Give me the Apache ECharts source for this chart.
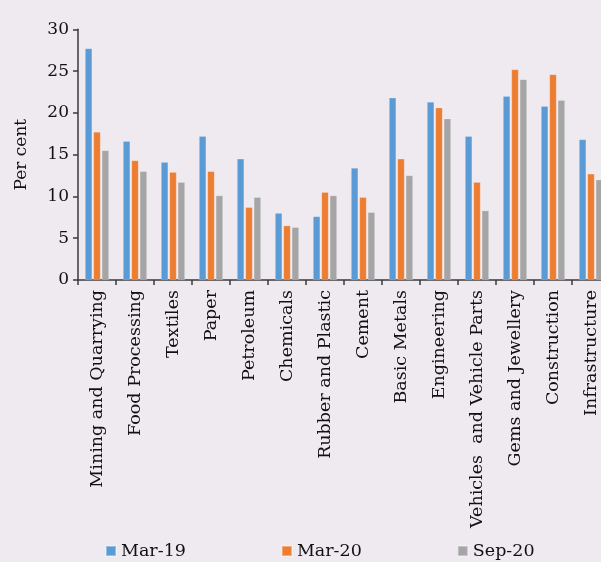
<!DOCTYPE html>
<html>
<head>
<meta charset="utf-8">
<script src="https://cdn.jsdelivr.net/npm/echarts@6/dist/echarts.min.js"></script>
<style>
  html, body { margin: 0; padding: 0; background: #eeeaf0; }
  #chart { width: 601px; height: 562px; }
</style>
</head>
<body>
<div id="chart"></div>
<script>
// Sector categories along the horizontal axis
const categories = [
  'Mining and Quarrying', 'Food Processing', 'Textiles', 'Paper', 'Petroleum',
  'Chemicals', 'Rubber and Plastic', 'Cement', 'Basic Metals', 'Engineering',
  'Vehicles  and Vehicle Parts', 'Gems and Jewellery', 'Construction', 'Infrastructure'
];

// Series values, per cent
const mar19 = [27.7, 16.6, 14.1, 17.2, 14.5, 8.0, 7.6, 13.4, 21.8, 21.3, 17.2, 22.0, 20.8, 16.8];
const mar20 = [17.7, 14.3, 12.9, 13.0, 8.7, 6.5, 10.5, 9.9, 14.5, 20.6, 11.7, 25.2, 24.6, 12.7];
const sep20 = [15.5, 13.0, 11.7, 10.1, 9.9, 6.3, 10.1, 8.1, 12.5, 19.3, 8.3, 24.0, 21.5, 12.0];

const seriesNames = ['Mar-19', 'Mar-20', 'Sep-20'];
const colors = ['#5b9bd5', '#ed7d31', '#a5a5a5'];

const FONT = 'DejaVu Serif';
const chart = echarts.init(document.getElementById('chart'), null, { renderer: 'canvas' });

const dataSets = [mar19, mar20, sep20];
chart.setOption({
  backgroundColor: '#eeeaf0',
  animation: false,
  textStyle: { fontFamily: FONT },
  // the plot runs slightly past the right edge of the canvas
  grid: {
    left: 78, top: 29.3, bottom: 282, width: 532,
    containLabel: false, outerBoundsMode: 'none'
  },
  legend: {
    top: 542,
    left: 105,
    padding: 0,
    itemWidth: 10,
    itemHeight: 10,
    itemGap: 95,
    icon: 'rect',
    textStyle: { fontFamily: FONT, fontSize: 17.5, color: '#111' },
    data: seriesNames
  },
  xAxis: {
    type: 'category',
    data: categories,
    axisLine: { lineStyle: { color: '#3a3a3a', width: 1.5 } },
    axisTick: { show: true, length: 5, lineStyle: { color: '#3a3a3a', width: 1.5 } },
    axisLabel: {
      rotate: 90,
      interval: 0,
      margin: 10,
      fontFamily: FONT,
      fontSize: 17.5,
      color: '#111'
    }
  },
  yAxis: {
    type: 'value',
    min: 0,
    max: 30,
    interval: 5,
    name: 'Per cent',
    nameLocation: 'middle',
    nameGap: 48,
    nameTextStyle: { fontFamily: FONT, fontSize: 17, color: '#111' },
    splitLine: { show: false },
    axisLine: { show: true, lineStyle: { color: '#3a3a3a', width: 1.5 } },
    axisTick: { show: true, length: 5, lineStyle: { color: '#3a3a3a', width: 1.5 } },
    axisLabel: { fontFamily: FONT, fontSize: 17, color: '#111', margin: 9 }
  },
  series: dataSets.map((d, i) => ({
    name: seriesNames[i],
    type: 'bar',
    data: d,
    barWidth: 7,
    barGap: '20%',
    itemStyle: { color: colors[i], borderColor: 'rgba(255,255,255,0.35)', borderWidth: 0.5 }
  }))
});
</script>
</body>
</html>
